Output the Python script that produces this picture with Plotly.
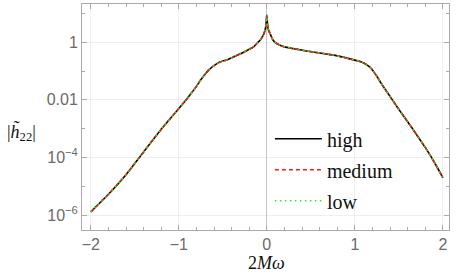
import plotly.graph_objects as go

# frequency grid (2Mω) and |h22| values
x_vals = [-2.0, -1.8, -1.6, -1.4, -1.2, -1.0, -0.9, -0.8, -0.75, -0.7, -0.65, -0.6,
          -0.55, -0.5, -0.45, -0.4, -0.3, -0.2, -0.15, -0.1, -0.07, -0.04, -0.02,
          -0.01, 0.0, 0.01, 0.02, 0.04, 0.07, 0.1, 0.15, 0.2, 0.3, 0.45, 0.6, 0.72,
          0.83, 0.91, 1.0, 1.06, 1.1, 1.14, 1.17, 1.2, 1.25, 1.3, 1.35, 1.4, 1.5,
          1.6, 1.7, 1.8, 1.9, 2.0]
h_high = [1.29e-06, 5.25e-06, 2.51e-05, 1.55e-04, 9.55e-04, 5.01e-03, 1.17e-02,
          2.95e-02, 5.01e-02, 7.94e-02, 1.17e-01, 1.55e-01, 1.95e-01, 2.24e-01,
          2.45e-01, 2.88e-01, 3.98e-01, 5.75e-01, 6.92e-01, 1.00, 1.26, 1.78,
          2.63, 3.80, 8.91, 3.55, 2.63, 1.91, 1.20, 9.55e-01, 7.94e-01, 6.92e-01,
          6.03e-01, 5.01e-01, 4.27e-01, 3.72e-01, 3.24e-01, 2.82e-01, 2.40e-01,
          2.14e-01, 1.91e-01, 1.62e-01, 1.38e-01, 1.10e-01, 6.61e-02, 3.72e-02,
          2.19e-02, 1.32e-02, 4.68e-03, 1.74e-03, 6.31e-04, 2.24e-04, 7.08e-05,
          2.00e-05]
h_medium = list(h_high)
h_low = list(h_high)

series = [
    ("high", h_high, "#000000", "solid"),
    ("medium", h_medium, "#ff1a1a", "4px,3px"),
    ("low", h_low, "#22ee22", "1.5px,3.5px"),
]

fig = go.Figure()
for i, (name, ys, col, dash) in enumerate(series):
    fig.add_trace(go.Scatter(
        x=x_vals, y=ys, mode="lines", name=name, legendgroup=name,
        line=dict(color=col, width=1.6, dash=dash, shape="spline", smoothing=0.5),
    ))

tick_font = dict(family="Liberation Sans, Arial, sans-serif", size=16, color="#6a6a6a")
fig.update_layout(
    width=457, height=276,
    margin=dict(l=82, r=8, t=4, b=46),
    plot_bgcolor="white", paper_bgcolor="white",
    showlegend=True,
    legend=dict(x=0.512, y=0.49, xanchor="left", yanchor="top",
                bgcolor="rgba(0,0,0,0)", traceorder="grouped", tracegroupgap=2,
                font=dict(family="Liberation Serif, Times New Roman, serif", size=20, color="#111"),
                itemwidth=47),
    xaxis=dict(range=[-2.1, 2.07], tickvals=[-2, -1, 0, 1, 2],
               ticktext=["−2", "−1", "0", "1", "2"], automargin=False,
               ticks="inside", ticklen=5, tickcolor="#aaa",
               showline=True, linecolor="#aaa", linewidth=1, mirror="allticks",
               showgrid=True, gridcolor="#efefef", gridwidth=1,
               zeroline=True, zerolinecolor="#c4c4c4", zerolinewidth=1,
               minor=dict(dtick=0.2, tick0=0, ticks="inside", ticklen=3, tickcolor="#aaa", showgrid=False),
               tickfont=tick_font),
    yaxis=dict(type="log", range=[-6.52, 1.33], automargin=False,
               tickvals=[1e-6, 1e-4, 1e-2, 1],
               ticktext=["10<sup>−6</sup>", "10<sup>−4</sup>", "0.01", "1"],
               ticks="inside", ticklen=5, tickcolor="#aaa",
               showline=True, linecolor="#aaa", linewidth=1, mirror="allticks",
               showgrid=True, gridcolor="#efefef", gridwidth=1, zeroline=False,
               minor=dict(tickvals=[1e-5, 1e-3, 1e-1, 10], ticks="inside", ticklen=3, tickcolor="#aaa", showgrid=False),
               tickfont=tick_font),
)

fig.add_annotation(xref="x", yref="paper", x=0, y=-0.145, yanchor="middle", xanchor="center",
                   text="2<i>Mω</i>", showarrow=False,
                   font=dict(family="Liberation Serif, Times New Roman, serif", size=18, color="#111"))
fig.add_annotation(xref="paper", yref="paper", x=-0.165, y=0.43, xanchor="center", yanchor="middle",
                   text="|<i>h̃</i><sub>22</sub>|", showarrow=False,
                   font=dict(family="Liberation Serif, Times New Roman, serif", size=18, color="#111"))

fig.write_html("out.html", config={"displayModeBar": False},
               post_script="document.body.style.margin='0px';")
